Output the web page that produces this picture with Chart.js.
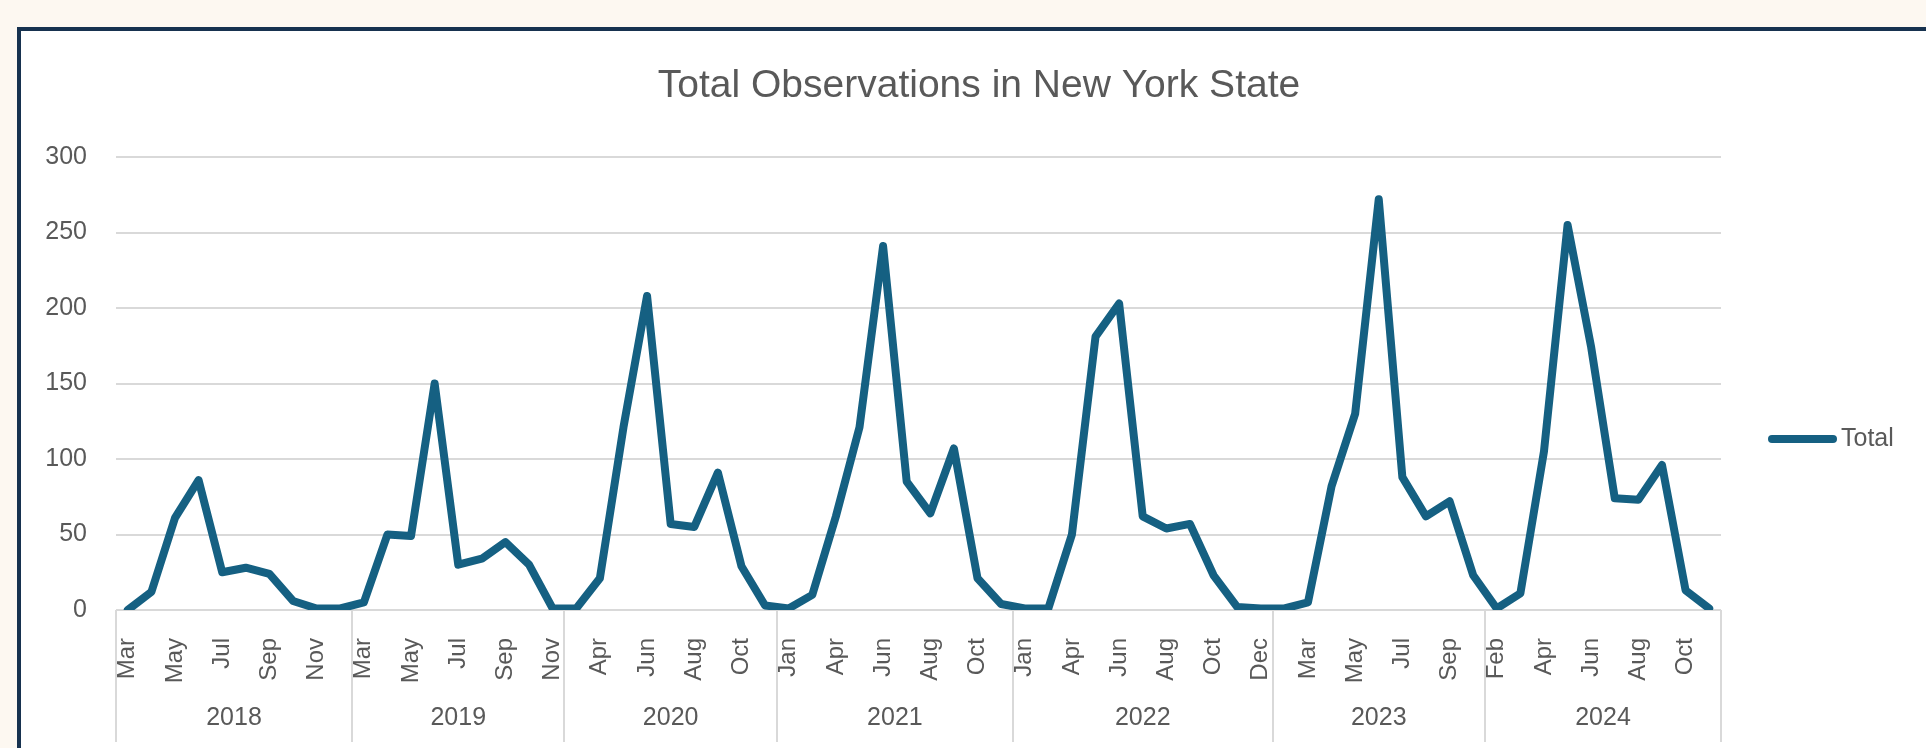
<!DOCTYPE html>
<html>
<head>
<meta charset="utf-8">
<title>Total Observations in New York State</title>
<script src="https://cdn.jsdelivr.net/npm/chart.js@4.4.1/dist/chart.umd.min.js"></script>
<style>
  html, body { margin: 0; padding: 0; }
  body {
    width: 1926px;
    height: 748px;
    overflow: hidden;
    position: relative;
    background: #fdf8f1;
    font-family: "Liberation Sans", Arial, sans-serif;
  }
  #frame {
    position: absolute;
    left: 17px;
    top: 27px;
    width: 1960px;
    height: 800px;
    box-sizing: border-box;
    border: 4px solid #17324f;
    background: #fff;
  }
  #wrap { position: absolute; left: 0; top: 0; width: 1926px; height: 748px; }
</style>
</head>
<body>
<div id="frame"></div>
<div id="wrap"><canvas id="obsChart" width="1926" height="748"></canvas></div>
<script>
const chartTitle = 'Total Observations in New York State';
const seriesName = 'Total';

const years = ['2018', '2019', '2020', '2021', '2022', '2023', '2024'];
const yearMonths = [
  ['Mar', 'Apr', 'May', 'Jun', 'Jul', 'Aug', 'Sep', 'Oct', 'Nov', 'Dec'],
  ['Mar', 'Apr', 'May', 'Jun', 'Jul', 'Aug', 'Sep', 'Oct', 'Nov'],
  ['Mar', 'Apr', 'May', 'Jun', 'Jul', 'Aug', 'Sep', 'Oct', 'Nov'],
  ['Jan', 'Mar', 'Apr', 'May', 'Jun', 'Jul', 'Aug', 'Sep', 'Oct', 'Nov'],
  ['Jan', 'Mar', 'Apr', 'May', 'Jun', 'Jul', 'Aug', 'Sep', 'Oct', 'Nov', 'Dec'],
  ['Feb', 'Mar', 'Apr', 'May', 'Jun', 'Jul', 'Aug', 'Sep', 'Oct'],
  ['Feb', 'Mar', 'Apr', 'May', 'Jun', 'Jul', 'Aug', 'Sep', 'Oct', 'Nov']
];

const totals2018 = [0, 12, 61, 86, 25, 28, 24, 6, 1, 1];
const totals2019 = [5, 50, 49, 150, 30, 34, 45, 30, 1];
const totals2020 = [1, 21, 121, 208, 57, 55, 91, 29, 3];
const totals2021 = [1, 10, 62, 121, 241, 85, 64, 107, 21, 4];
const totals2022 = [1, 1, 50, 181, 203, 62, 54, 57, 23, 2, 1];
const totals2023 = [1, 5, 82, 130, 272, 88, 62, 72, 23];
const totals2024 = [1, 11, 105, 255, 174, 74, 73, 96, 13, 1];

const yTicks = [0, 50, 100, 150, 200, 250, 300];

const months = yearMonths.flat();
const totals = [].concat(totals2018, totals2019, totals2020, totals2021, totals2022, totals2023, totals2024);

const textGrey = '#595959';
const gridGrey = '#d9d9d9';
const lineBlue = '#156082';
const fontFamily = '"Liberation Sans", Arial, sans-serif';

// year groups under the month labels, plus title and legend
const excelDecor = {
  id: 'excelDecor',
  afterDraw(chart) {
    const ctx = chart.ctx;
    const xs = chart.scales.x;
    const area = chart.chartArea;
    const step = xs.getPixelForValue(1) - xs.getPixelForValue(0);

    ctx.save();
    ctx.strokeStyle = gridGrey;
    ctx.lineWidth = 2;
    ctx.fillStyle = textGrey;
    ctx.font = '25px ' + fontFamily;
    ctx.textAlign = 'center';
    ctx.textBaseline = 'middle';

    let start = 0;
    let right = area.left;
    years.forEach((yr, k) => {
      const n = yearMonths[k].length;
      const left = xs.getPixelForValue(start) - step / 2;
      right = xs.getPixelForValue(start + n - 1) + step / 2;
      ctx.beginPath();
      ctx.moveTo(Math.round(left), area.bottom);
      ctx.lineTo(Math.round(left), area.bottom + 132);
      ctx.stroke();
      ctx.fillText(yr, (left + right) / 2, area.bottom + 108);
      start += n;
    });
    ctx.beginPath();
    ctx.moveTo(Math.round(right), area.bottom);
    ctx.lineTo(Math.round(right), area.bottom + 132);
    ctx.stroke();

    // title
    ctx.font = '39px ' + fontFamily;
    ctx.fillText(chartTitle, 979, 86);

    // legend
    const ds = chart.data.datasets[0];
    const ly = 439;
    ctx.strokeStyle = ds.borderColor;
    ctx.lineWidth = 8;
    ctx.lineCap = 'round';
    ctx.beginPath();
    ctx.moveTo(1772, ly);
    ctx.lineTo(1833, ly);
    ctx.stroke();
    ctx.font = '25px ' + fontFamily;
    ctx.textAlign = 'left';
    ctx.fillText(ds.label, 1841, ly);
    ctx.restore();
  }
};

new Chart(document.getElementById('obsChart'), {
  type: 'line',
  data: {
    labels: months,
    datasets: [{
      label: seriesName,
      data: totals,
      borderColor: lineBlue,
      backgroundColor: lineBlue,
      borderWidth: 8,
      borderJoinStyle: 'round',
      borderCapStyle: 'round',
      pointRadius: 0,
      tension: 0,
      fill: false
    }]
  },
  options: {
    responsive: false,
    animation: false,
    layout: { padding: { left: 0, right: 205, top: 157, bottom: 0 } },
    plugins: {
      legend: { display: false },
      title: { display: false },
      tooltip: { enabled: false }
    },
    scales: {
      x: {
        type: 'category',
        offset: true,
        grid: { display: false },
        border: { display: false },
        ticks: {
          autoSkip: false,
          minRotation: 90,
          maxRotation: 90,
          padding: 20,
          color: textGrey,
          font: { family: fontFamily, size: 24 },
          callback: function(value, index) {
            return index % 2 === 0 ? this.getLabelForValue(value) : '';
          }
        },
        afterFit(scale) { scale.height = 138; }
      },
      y: {
        min: 0,
        max: 300,
        afterBuildTicks(scale) { scale.ticks = yTicks.map(v => ({ value: v })); },
        grid: { color: gridGrey, lineWidth: 2, drawTicks: false },
        border: { display: false },
        ticks: {
          padding: 29,
          color: textGrey,
          font: { family: fontFamily, size: 25 }
        },
        afterFit(scale) { scale.width = 116; }
      }
    }
  },
  plugins: [excelDecor]
});
</script>
</body>
</html>
